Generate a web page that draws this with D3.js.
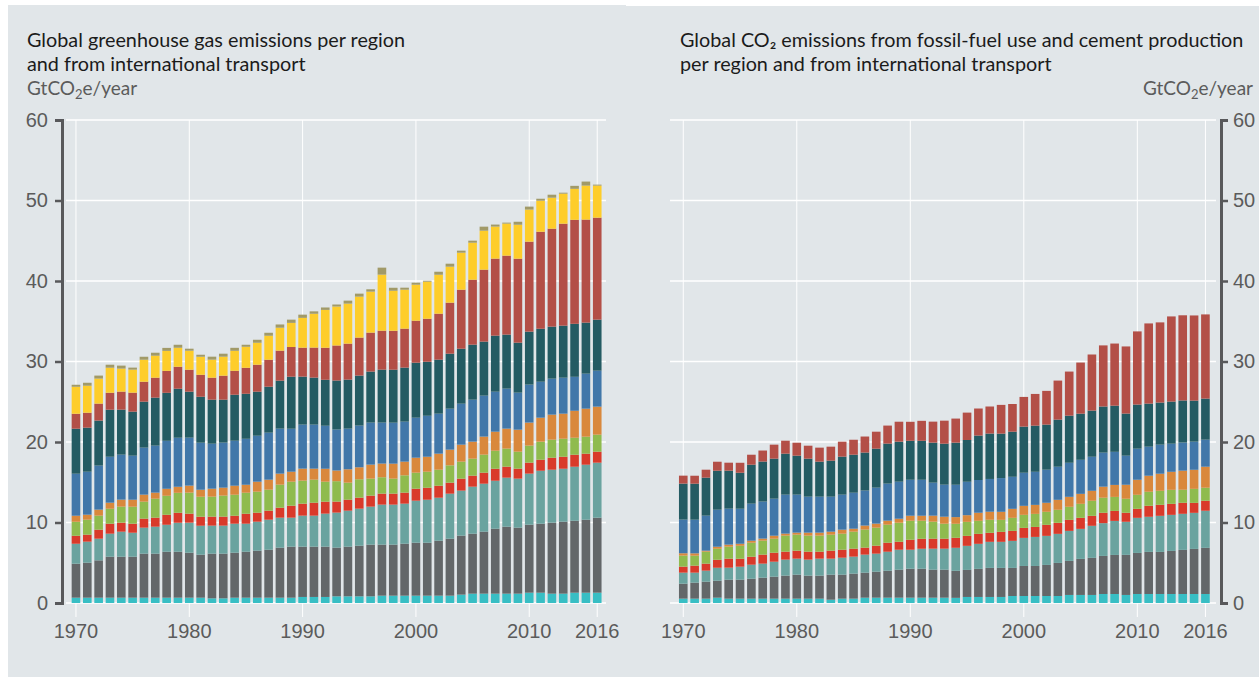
<!DOCTYPE html>
<html>
<head>
<meta charset="utf-8">
<style>
body { margin: 0; background: #fff; }
svg { display: block; font-family: Lato, "Open Sans", sans-serif; }
.title { font-size: 19.8px; fill: #1b1b1b; }
.unit { font-size: 19px; fill: #5b5b5b; }
.tick text { font-size: 20px; fill: #5b5b5b; }
</style>
</head>
<body>
<svg width="1259" height="682"></svg>
<script src="https://cdn.jsdelivr.net/npm/d3@7/dist/d3.min.js"></script>
<script>
// years on the x axis
var years = d3.range(1970, 2017);
var yearTicks = [1970, 1980, 1990, 2000, 2010, 2016];
var valueTicks = [0, 10, 20, 30, 40, 50, 60];

var colors = {
  transport: "#38bec4", rest: "#636769", otherLarge: "#6aa39f", japan: "#d93a2a",
  russia: "#8fbb4e", india: "#d9883c", eu: "#4177a9", usa: "#245b63",
  china: "#b34f47", landUse: "#fecd2a", peat: "#a19a68"
};
var keysGhg = ["transport", "rest", "otherLarge", "japan", "russia", "india", "eu", "usa", "china", "landUse", "peat"];
var keysCo2 = ["transport", "rest", "otherLarge", "japan", "russia", "india", "eu", "usa", "china"];

// --- greenhouse gas emissions (left), GtCO2e per year, 1970-2016
var ghgTransport = [0.66,0.66,0.66,0.66,0.66,0.66,0.66,0.66,0.66,0.66,0.66,0.66,0.58,0.58,0.66,0.66,0.66,0.66,0.66,0.66,0.75,0.75,0.75,0.83,0.83,0.83,0.83,0.91,0.91,0.91,0.91,0.91,0.91,0.91,1.04,1.16,1.16,1.16,1.16,1.16,1.28,1.28,1.16,1.16,1.28,1.28,1.28];
var ghgRest = [4.22,4.35,4.64,5.09,5.09,5.09,5.47,5.47,5.71,5.71,5.59,5.34,5.55,5.55,5.59,5.71,5.84,5.96,6.21,6.34,6.25,6.25,6.25,6.05,6.17,6.29,6.42,6.34,6.34,6.46,6.58,6.58,6.83,7.08,7.33,7.45,7.70,8.07,8.32,8.20,8.45,8.57,8.82,8.94,8.94,9.07,9.32];
var ghgOtherLarge = [2.48,2.61,2.69,2.86,3.11,2.98,3.23,3.35,3.35,3.60,3.73,3.60,3.48,3.48,3.60,3.48,3.60,3.73,3.73,3.60,3.85,3.85,4.10,4.35,4.47,4.60,4.72,4.97,4.97,4.97,5.22,5.34,5.34,5.59,5.59,5.84,5.96,5.96,6.09,6.09,6.34,6.58,6.58,6.58,6.71,6.83,6.83];
var ghgJapan = [0.99,0.87,1.12,1.24,1.12,1.12,1.12,1.12,1.24,1.24,1.12,1.12,1.12,1.12,0.99,1.24,1.12,1.12,1.24,1.49,1.49,1.61,1.49,1.37,1.37,1.37,1.37,1.37,1.37,1.37,1.49,1.49,1.49,1.37,1.49,1.37,1.37,1.49,1.37,1.24,1.37,1.37,1.49,1.49,1.49,1.37,1.37];
var ghgRussia = [1.74,1.86,1.74,1.86,1.99,2.11,2.11,2.36,2.36,2.48,2.61,2.48,2.48,2.61,2.61,2.61,2.61,2.61,2.86,2.98,2.86,2.86,2.48,2.53,2.11,2.28,2.11,2.03,1.86,2.15,1.99,1.99,1.99,2.15,2.11,2.11,2.24,2.24,2.24,2.11,2.11,2.24,2.24,2.24,2.11,2.11,2.11];
var ghgIndia = [0.75,0.62,0.75,0.75,0.87,0.87,0.87,0.75,0.87,0.75,0.87,0.87,0.99,0.99,1.12,0.99,1.24,1.24,1.37,1.24,1.49,1.37,1.61,1.33,1.66,1.49,1.74,1.70,1.86,1.70,1.86,1.86,1.99,1.95,2.11,2.11,2.24,2.36,2.48,2.73,2.86,2.98,3.11,3.11,3.35,3.48,3.48];
var ghgEu = [5.22,5.34,5.47,5.71,5.59,5.47,5.84,5.84,5.96,6.09,5.96,5.84,5.59,5.59,5.59,5.71,5.71,5.84,5.59,5.34,5.47,5.47,5.34,5.09,5.05,5.18,5.22,5.09,5.09,4.97,4.97,5.09,4.97,5.09,5.09,5.22,5.09,4.97,4.97,4.60,4.72,4.47,4.47,4.47,4.22,4.35,4.47];
var ghgUsa = [5.59,5.47,5.59,5.84,5.59,5.47,5.71,5.96,5.96,6.09,5.71,5.71,5.47,5.34,5.71,5.59,5.47,5.71,5.96,6.46,5.96,5.84,5.71,6.09,6.09,6.21,6.34,6.58,6.58,6.71,6.83,6.71,6.71,6.83,6.83,6.83,6.71,6.96,6.71,6.21,6.58,6.58,6.46,6.46,6.58,6.34,6.34];
var ghgChina = [1.86,1.86,2.11,2.11,2.24,2.36,2.48,2.48,2.73,2.73,2.73,2.73,2.73,2.98,2.98,3.23,3.35,3.35,3.73,3.69,3.60,3.73,3.98,4.35,4.47,4.72,4.84,4.84,4.84,4.84,5.22,5.34,5.71,6.34,7.33,8.07,8.94,9.57,9.81,10.43,11.18,12.05,12.17,12.67,12.92,12.80,12.67];
var ghgLandUse = [3.35,3.35,3.11,3.11,2.86,2.86,2.73,2.73,2.48,2.36,2.36,2.24,2.24,2.36,2.48,2.61,2.73,2.98,2.85,3.00,3.70,4.20,4.70,4.84,4.97,5.09,5.09,6.96,4.97,4.84,4.47,4.60,4.84,4.47,4.60,4.60,4.84,3.98,3.98,4.22,3.98,3.85,3.85,3.73,3.85,4.22,3.98];
var ghgPeat = [0.25,0.37,0.37,0.37,0.37,0.25,0.37,0.37,0.37,0.37,0.25,0.25,0.37,0.37,0.37,0.25,0.37,0.37,0.40,0.40,0.40,0.30,0.30,0.25,0.37,0.37,0.29,0.87,0.37,0.25,0.25,0.12,0.37,0.37,0.25,0.25,0.50,0.25,0.12,0.37,0.37,0.25,0.37,0.12,0.37,0.50,0.12];

// --- CO2 from fossil fuel use and cement (right), 1970-2016
var co2Transport = [0.54,0.54,0.54,0.66,0.54,0.54,0.54,0.54,0.54,0.54,0.54,0.54,0.54,0.41,0.54,0.54,0.66,0.66,0.66,0.66,0.66,0.66,0.66,0.66,0.64,0.75,0.75,0.75,0.75,0.87,0.87,0.87,0.87,0.87,1.00,1.00,1.00,1.12,1.12,1.00,1.12,1.12,1.12,1.12,1.12,1.12,1.12];
var co2Rest = [1.86,1.99,2.11,2.11,2.36,2.36,2.48,2.61,2.73,2.86,2.98,2.86,2.86,3.11,2.98,3.11,3.11,3.23,3.35,3.48,3.60,3.60,3.48,3.48,3.36,3.36,3.49,3.61,3.61,3.49,3.73,3.73,3.86,4.11,4.23,4.48,4.61,4.73,4.85,4.98,5.10,5.23,5.23,5.35,5.48,5.60,5.73];
var co2OtherLarge = [1.37,1.24,1.37,1.61,1.49,1.61,1.74,1.74,1.86,1.99,1.99,1.99,2.11,1.99,2.11,2.11,2.24,2.24,2.36,2.48,2.36,2.48,2.61,2.61,2.86,2.99,3.11,3.24,3.24,3.36,3.49,3.61,3.61,3.61,3.73,3.73,3.98,4.07,4.23,4.11,4.36,4.36,4.48,4.48,4.48,4.48,4.61];
var co2Japan = [0.75,0.87,0.87,0.99,1.12,0.99,0.99,1.12,1.12,0.99,0.99,0.99,0.87,0.99,0.99,0.99,0.87,0.99,1.12,0.99,1.24,1.24,1.24,1.24,1.24,1.24,1.24,1.12,1.24,1.24,1.24,1.24,1.37,1.37,1.37,1.37,1.24,1.29,1.24,1.12,1.12,1.37,1.37,1.37,1.37,1.24,1.24];
var co2Russia = [1.37,1.24,1.49,1.37,1.49,1.61,1.74,1.74,1.74,1.99,1.99,1.99,1.99,1.99,1.99,2.11,2.24,2.24,2.24,2.36,2.36,2.24,2.11,1.86,1.74,1.74,1.62,1.62,1.49,1.62,1.62,1.62,1.62,1.62,1.62,1.74,1.87,1.87,1.74,1.74,1.74,1.74,1.74,1.74,1.62,1.74,1.62];
var co2India = [0.29,0.29,0.12,0.25,0.25,0.25,0.25,0.25,0.37,0.25,0.25,0.37,0.37,0.37,0.50,0.37,0.50,0.50,0.50,0.50,0.62,0.62,0.75,0.87,0.83,0.83,1.00,1.00,1.00,1.12,1.12,1.12,1.12,1.24,1.24,1.24,1.24,1.37,1.49,1.74,1.87,1.99,2.12,2.24,2.37,2.37,2.61];
var co2Eu = [4.18,4.18,4.35,4.60,4.47,4.35,4.60,4.60,4.60,4.84,4.72,4.47,4.47,4.35,4.35,4.47,4.35,4.47,4.60,4.60,4.47,4.47,4.10,3.98,4.02,4.15,4.07,4.07,4.19,3.98,4.11,4.11,4.11,4.11,4.23,4.23,4.23,4.23,4.11,3.61,3.86,3.61,3.61,3.49,3.49,3.49,3.36];
var co2Usa = [4.47,4.47,4.72,4.84,4.72,4.47,4.84,4.97,4.97,5.09,4.84,4.72,4.35,4.47,4.72,4.72,4.72,4.84,4.97,4.97,4.84,4.84,4.97,5.09,5.23,5.19,5.52,5.64,5.52,5.60,5.73,5.73,5.60,5.85,5.85,5.73,5.73,5.73,5.73,5.23,5.48,5.35,5.23,5.23,5.23,5.10,5.10];
var co2China = [0.99,0.99,0.99,1.12,0.99,1.24,1.24,1.37,1.74,1.61,1.61,1.61,1.74,1.74,1.86,1.86,1.99,2.11,2.24,2.48,2.36,2.48,2.61,2.86,2.99,3.40,3.36,3.36,3.57,3.44,3.69,3.94,4.19,4.85,5.48,6.35,6.97,7.59,7.72,8.34,9.09,9.96,9.96,10.58,10.58,10.58,10.46];

var ghgSeries = {
  transport: ghgTransport, rest: ghgRest, otherLarge: ghgOtherLarge, japan: ghgJapan,
  russia: ghgRussia, india: ghgIndia, eu: ghgEu, usa: ghgUsa, china: ghgChina,
  landUse: ghgLandUse, peat: ghgPeat
};
var co2Series = {
  transport: co2Transport, rest: co2Rest, otherLarge: co2OtherLarge, japan: co2Japan,
  russia: co2Russia, india: co2India, eu: co2Eu, usa: co2Usa, china: co2China
};

var svg = d3.select("svg");

// panel backgrounds
svg.append("rect").attr("x", 8).attr("y", 5).attr("width", 618).attr("height", 672).attr("fill", "#e1e6e9");
svg.append("rect").attr("x", 626).attr("y", 6).attr("width", 633).attr("height", 671).attr("fill", "#e1e6e9");

function table(series, keys) {
  return years.map(function(yr, i) {
    var row = { year: yr };
    keys.forEach(function(k) { row[k] = series[k][i]; });
    return row;
  });
}

function drawPanel(p) {
  var g = svg.append("g");

  var x = d3.scaleBand()
      .domain(years)
      .range(p.xRange)
      .paddingInner(0.24)
      .paddingOuter(0.12);

  var y = d3.scaleLinear()
      .domain([0, 60])
      .range([603, 120]);

  // horizontal grid
  g.append("g").selectAll("line")
      .data(valueTicks)
    .enter().append("line")
      .attr("x1", p.gridX[0]).attr("x2", p.gridX[1])
      .attr("y1", function(d) { return y(d); })
      .attr("y2", function(d) { return y(d); })
      .attr("stroke", "#fff").attr("stroke-width", 1.5);

  // vertical grid
  g.append("g").selectAll("line")
      .data(yearTicks)
    .enter().append("line")
      .attr("x1", function(d) { return x(d) + x.bandwidth() / 2; })
      .attr("x2", function(d) { return x(d) + x.bandwidth() / 2; })
      .attr("y1", y(60)).attr("y2", y(0))
      .attr("stroke", "#fff").attr("stroke-width", 1);

  var stacked = d3.stack().keys(p.keys)(table(p.series, p.keys));

  g.append("g").selectAll("g")
      .data(stacked)
    .enter().append("g")
      .attr("fill", function(d) { return colors[d.key]; })
    .selectAll("rect")
      .data(function(d) { return d; })
    .enter().append("rect")
      .attr("x", function(d) { return x(d.data.year); })
      .attr("width", x.bandwidth())
      .attr("y", function(d) { return y(d[1]); })
      .attr("height", function(d) { return y(d[0]) - y(d[1]); });

  // year axis
  var xAxis = g.append("g")
      .attr("transform", "translate(0," + y(0) + ")")
      .call(d3.axisBottom(x).tickValues(yearTicks).tickSize(14).tickPadding(7));
  xAxis.select(".domain").remove();
  xAxis.selectAll(".tick line").attr("stroke", "#fff").attr("stroke-width", 1);

  // value axis
  var axis = p.side === "left" ? d3.axisLeft(y) : d3.axisRight(y);
  var yAxis = g.append("g")
      .attr("transform", "translate(" + p.axisX + ",0)")
      .call(axis.tickValues(valueTicks).tickSize(7).tickPadding(p.side === "left" ? 7 : 5));
  yAxis.select(".domain").attr("stroke", "#58595b").attr("stroke-width", 3);
  yAxis.selectAll(".tick line").attr("stroke", "#58595b").attr("stroke-width", 2.5);

  // titles
  p.title.forEach(function(line, i) {
    svg.append("text").attr("class", "title")
        .attr("x", p.titleX).attr("y", 47 + i * 24)
        .text(line);
  });

  var unit = svg.append("text").attr("class", "unit")
      .attr("x", p.unitX).attr("y", 95)
      .attr("text-anchor", p.side === "left" ? "start" : "end");
  unit.append("tspan").text("GtCO");
  unit.append("tspan").attr("font-size", 13).attr("dy", 4).text("2");
  unit.append("tspan").attr("dy", -4).text("e/year");
}

drawPanel({
  keys: keysGhg, series: ghgSeries,
  xRange: [70.3, 602.9], gridX: [66, 606], axisX: 62, side: "left",
  titleX: 27, unitX: 27,
  title: ["Global greenhouse gas emissions per region", "and from international transport"]
});

drawPanel({
  keys: keysCo2, series: co2Series,
  xRange: [677.6, 1211.1], gridX: [670, 1216], axisX: 1221, side: "right",
  titleX: 680, unitX: 1253,
  title: ["Global CO\u2082 emissions from fossil-fuel use and cement production", "per region and from international transport"]
});
</script>
</body>
</html>
